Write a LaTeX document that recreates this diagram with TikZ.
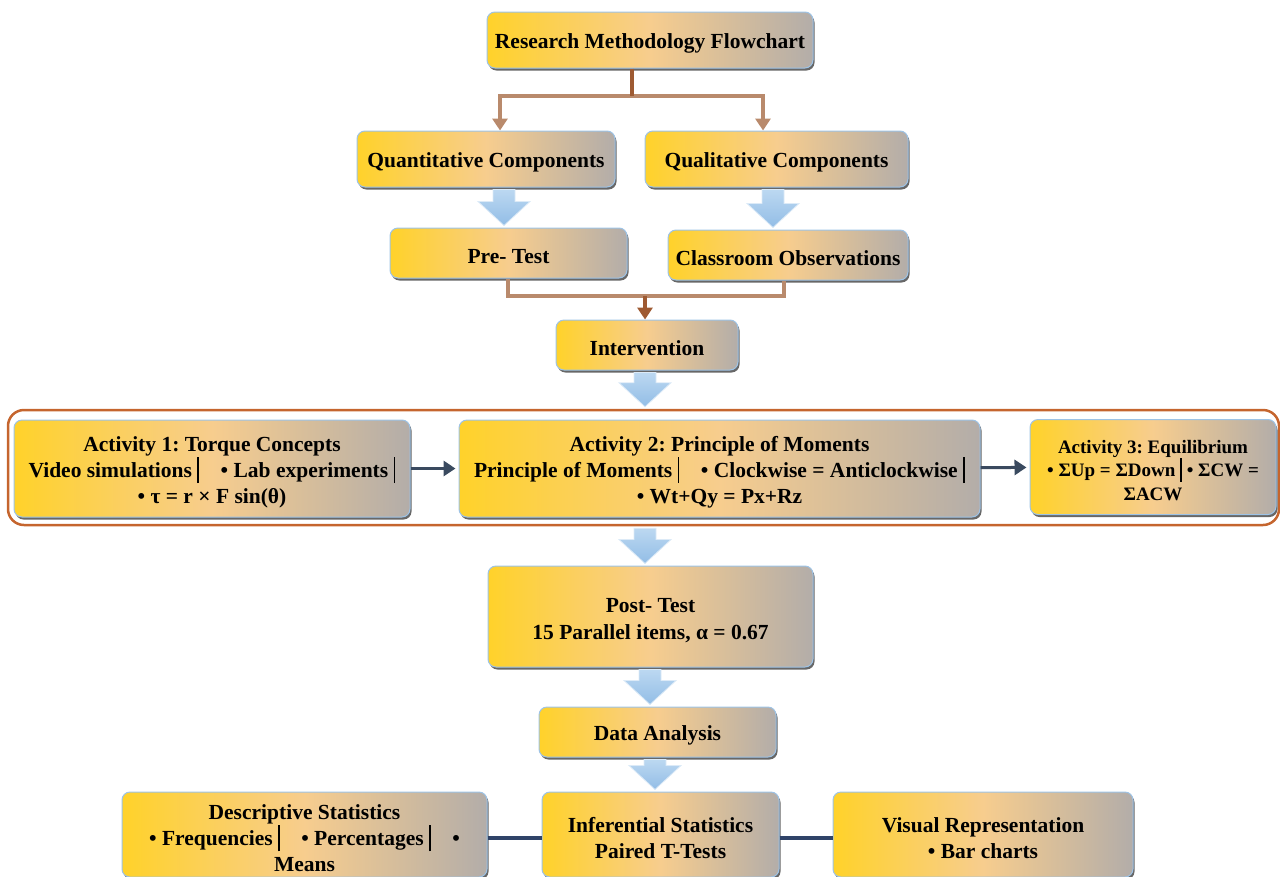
\documentclass[tikz,border=0pt]{standalone}
\usepackage{fontspec}
\setmainfont{Liberation Serif}
\usetikzlibrary{arrows.meta,shadows,calc}

\definecolor{boxL}{HTML}{FFD22A}
\definecolor{boxM}{HTML}{F7CD8E}
\definecolor{boxR}{HTML}{B3ADA9}
\definecolor{boxEdge}{HTML}{9DC3E6}
\definecolor{brownD}{HTML}{9E5A32}
\definecolor{brownL}{HTML}{B98A6C}
\definecolor{outlineC}{HTML}{C5652E}
\definecolor{slate}{HTML}{3A4A5F}
\definecolor{navy}{HTML}{2F4368}
\definecolor{blueA}{HTML}{BCD8F1}
\definecolor{blueB}{HTML}{92BDE6}
\definecolor{blueEdge}{HTML}{DCEAF7}

\newcommand\vb{\rule[-6pt]{1.8pt}{26pt}}
\newcommand\fstrut{\rule{0pt}{22pt}}

\newcommand\barrow[3]{%
  \path[blockarrow] let \p1=(#2.south), \p2=(#3.north) in
    (#1pt-11pt,\y1-2pt) -- (#1pt+11pt,\y1-2pt) -- (#1pt+11pt,\y2+26pt)
    -- (#1pt+26pt,\y2+26pt) -- (#1pt,\y2+2pt) -- (#1pt-26pt,\y2+26pt)
    -- (#1pt-11pt,\y2+26pt) -- cycle;}

\tikzset{
  box/.style={rounded corners=8pt, left color=boxL, right color=boxR, middle color=boxM,
    draw=boxEdge, line width=1pt, align=center, inner sep=0pt,
    font=\bfseries\frenchspacing\fontsize{21.5}{26}\selectfont,
    drop shadow={shadow xshift=1.5pt, shadow yshift=-2.5pt, fill=black!70, opacity=0.85}},
  onebox/.style={box, execute at begin node={\fstrut}},
  outlinebox/.style={rounded corners=16pt, draw=outlineC, line width=2.5pt, inner sep=0pt},
  blockarrow/.style={top color=blueA, bottom color=blueB, draw=blueEdge, line width=0.8pt},
  brownline/.style={line width=4pt},
  browntip/.style={-{Triangle[length=12pt,width=15pt]}},
  actarrow/.style={draw=slate, line width=3pt, -{Triangle[length=12pt,width=15pt]}, shorten >=3pt},
  botline/.style={draw=navy, line width=3.5pt},
}

\begin{document}
\begin{tikzpicture}[x=1pt,y=-1pt]
\useasboundingbox (0,0) rectangle (1280,876);
\clip (0,0) rectangle (1280,876);

% outline round the activities
\node[outlinebox, minimum width=1271pt, minimum height=115pt] (outline) at (643.5,467.5) {};

% boxes
\node[onebox, minimum width=326pt, minimum height=56pt] (title) at (650,40) {Research Methodology Flowchart};
\node[onebox, minimum width=258pt, minimum height=56pt] (quant) at (486,159) {Quantitative Components};
\node[onebox, minimum width=263pt, minimum height=56pt] (qual) at (776.5,159) {Qualitative Components};
\node[onebox, minimum width=237pt, minimum height=50pt] (pre) at (508.5,253) {Pre- Test};
\node[onebox, minimum width=240pt, minimum height=50pt] (class) at (788,255) {Classroom Observations};
\node[onebox, minimum width=182pt, minimum height=50pt] (interv) at (647,345) {Intervention};

\node[box, minimum width=396pt, minimum height=97pt] (act1) at (212,468.5)
  {\fstrut Activity 1: Torque Concepts\\ Video simulations~\vb\quad• Lab experiments~\vb\\ • τ = r × F sin(θ)};
\node[box, minimum width=521pt, minimum height=97pt] (act2) at (719.5,468.5)
  {\fstrut Activity 2: Principle of Moments\\ Principle of Moments~\vb\quad• Clockwise = Anticlockwise~\vb\\ • Wt+Qy = Px+Rz};
\node[box, minimum width=246pt, minimum height=95pt, font=\bfseries\frenchspacing\fontsize{19}{23.5}\selectfont] (act3) at (1153,467)
  {\rule{0pt}{20pt}Activity 3: Equilibrium\\ • ΣUp = ΣDown~\rule[-5pt]{1.8pt}{24pt}~• ΣCW =\\ ΣACW};

\node[box, minimum width=325pt, minimum height=101pt, font=\bfseries\frenchspacing\fontsize{21.5}{27}\selectfont] (post) at (650.5,616.5)
  {\fstrut Post- Test\\ 15 Parallel items, α = 0.67};
\node[onebox, minimum width=237pt, minimum height=50pt] (data) at (657.5,732) {Data Analysis};

\node[box, minimum width=365pt, minimum height=85pt] (desc) at (304.5,834.5)
  {\fstrut Descriptive Statistics\\ • Frequencies~\vb\quad• Percentages~\vb\quad•\\ Means};
\node[box, minimum width=237pt, minimum height=85pt] (inf) at (660.5,834.5)
  {\fstrut Inferential Statistics\\ Paired T-Tests};
\node[box, minimum width=300pt, minimum height=85pt] (vis) at (983,834.5)
  {\fstrut Visual Representation\\ • Bar charts};

% brown connectors
\coordinate (j1) at (632,96);
\coordinate (jq) at (500,96);
\coordinate (jl) at (763,96);
\draw[brownline, brownL] ([xshift=-2pt]jq) -- ([xshift=2pt]jl);
\draw[brownline, brownD] (title.south -| j1) -- (j1);
\draw[brownline, brownL, browntip] (jq) -- (jq |- quant.north);
\draw[brownline, brownL, browntip] (jl) -- (jl |- qual.north);

\coordinate (k1) at (508,296);
\coordinate (k2) at (784,296);
\coordinate (k3) at (645,296);
\draw[brownline, brownL, line join=miter] (pre.south -| k1) -- (k1) -- (k2) -- (class.south -| k2);
\draw[brownline, brownD, browntip] (k3) -- (k3 |- interv.north);

% block arrows
\barrow{504}{quant}{pre}
\barrow{773}{qual}{class}
\barrow{645}{interv}{outline}
\barrow{645}{outline}{post}
\barrow{650}{post}{data}
\barrow{655}{data}{inf}

% activity arrows
\draw[actarrow] (act1) -- (act2);
\draw[actarrow] (act2) -- (act3);

% bottom lines
\draw[botline] (desc.east |- 0,838) -- (inf.west |- 0,838);
\draw[botline] (inf.east |- 0,838) -- (vis.west |- 0,838);
\end{tikzpicture}
\end{document}
